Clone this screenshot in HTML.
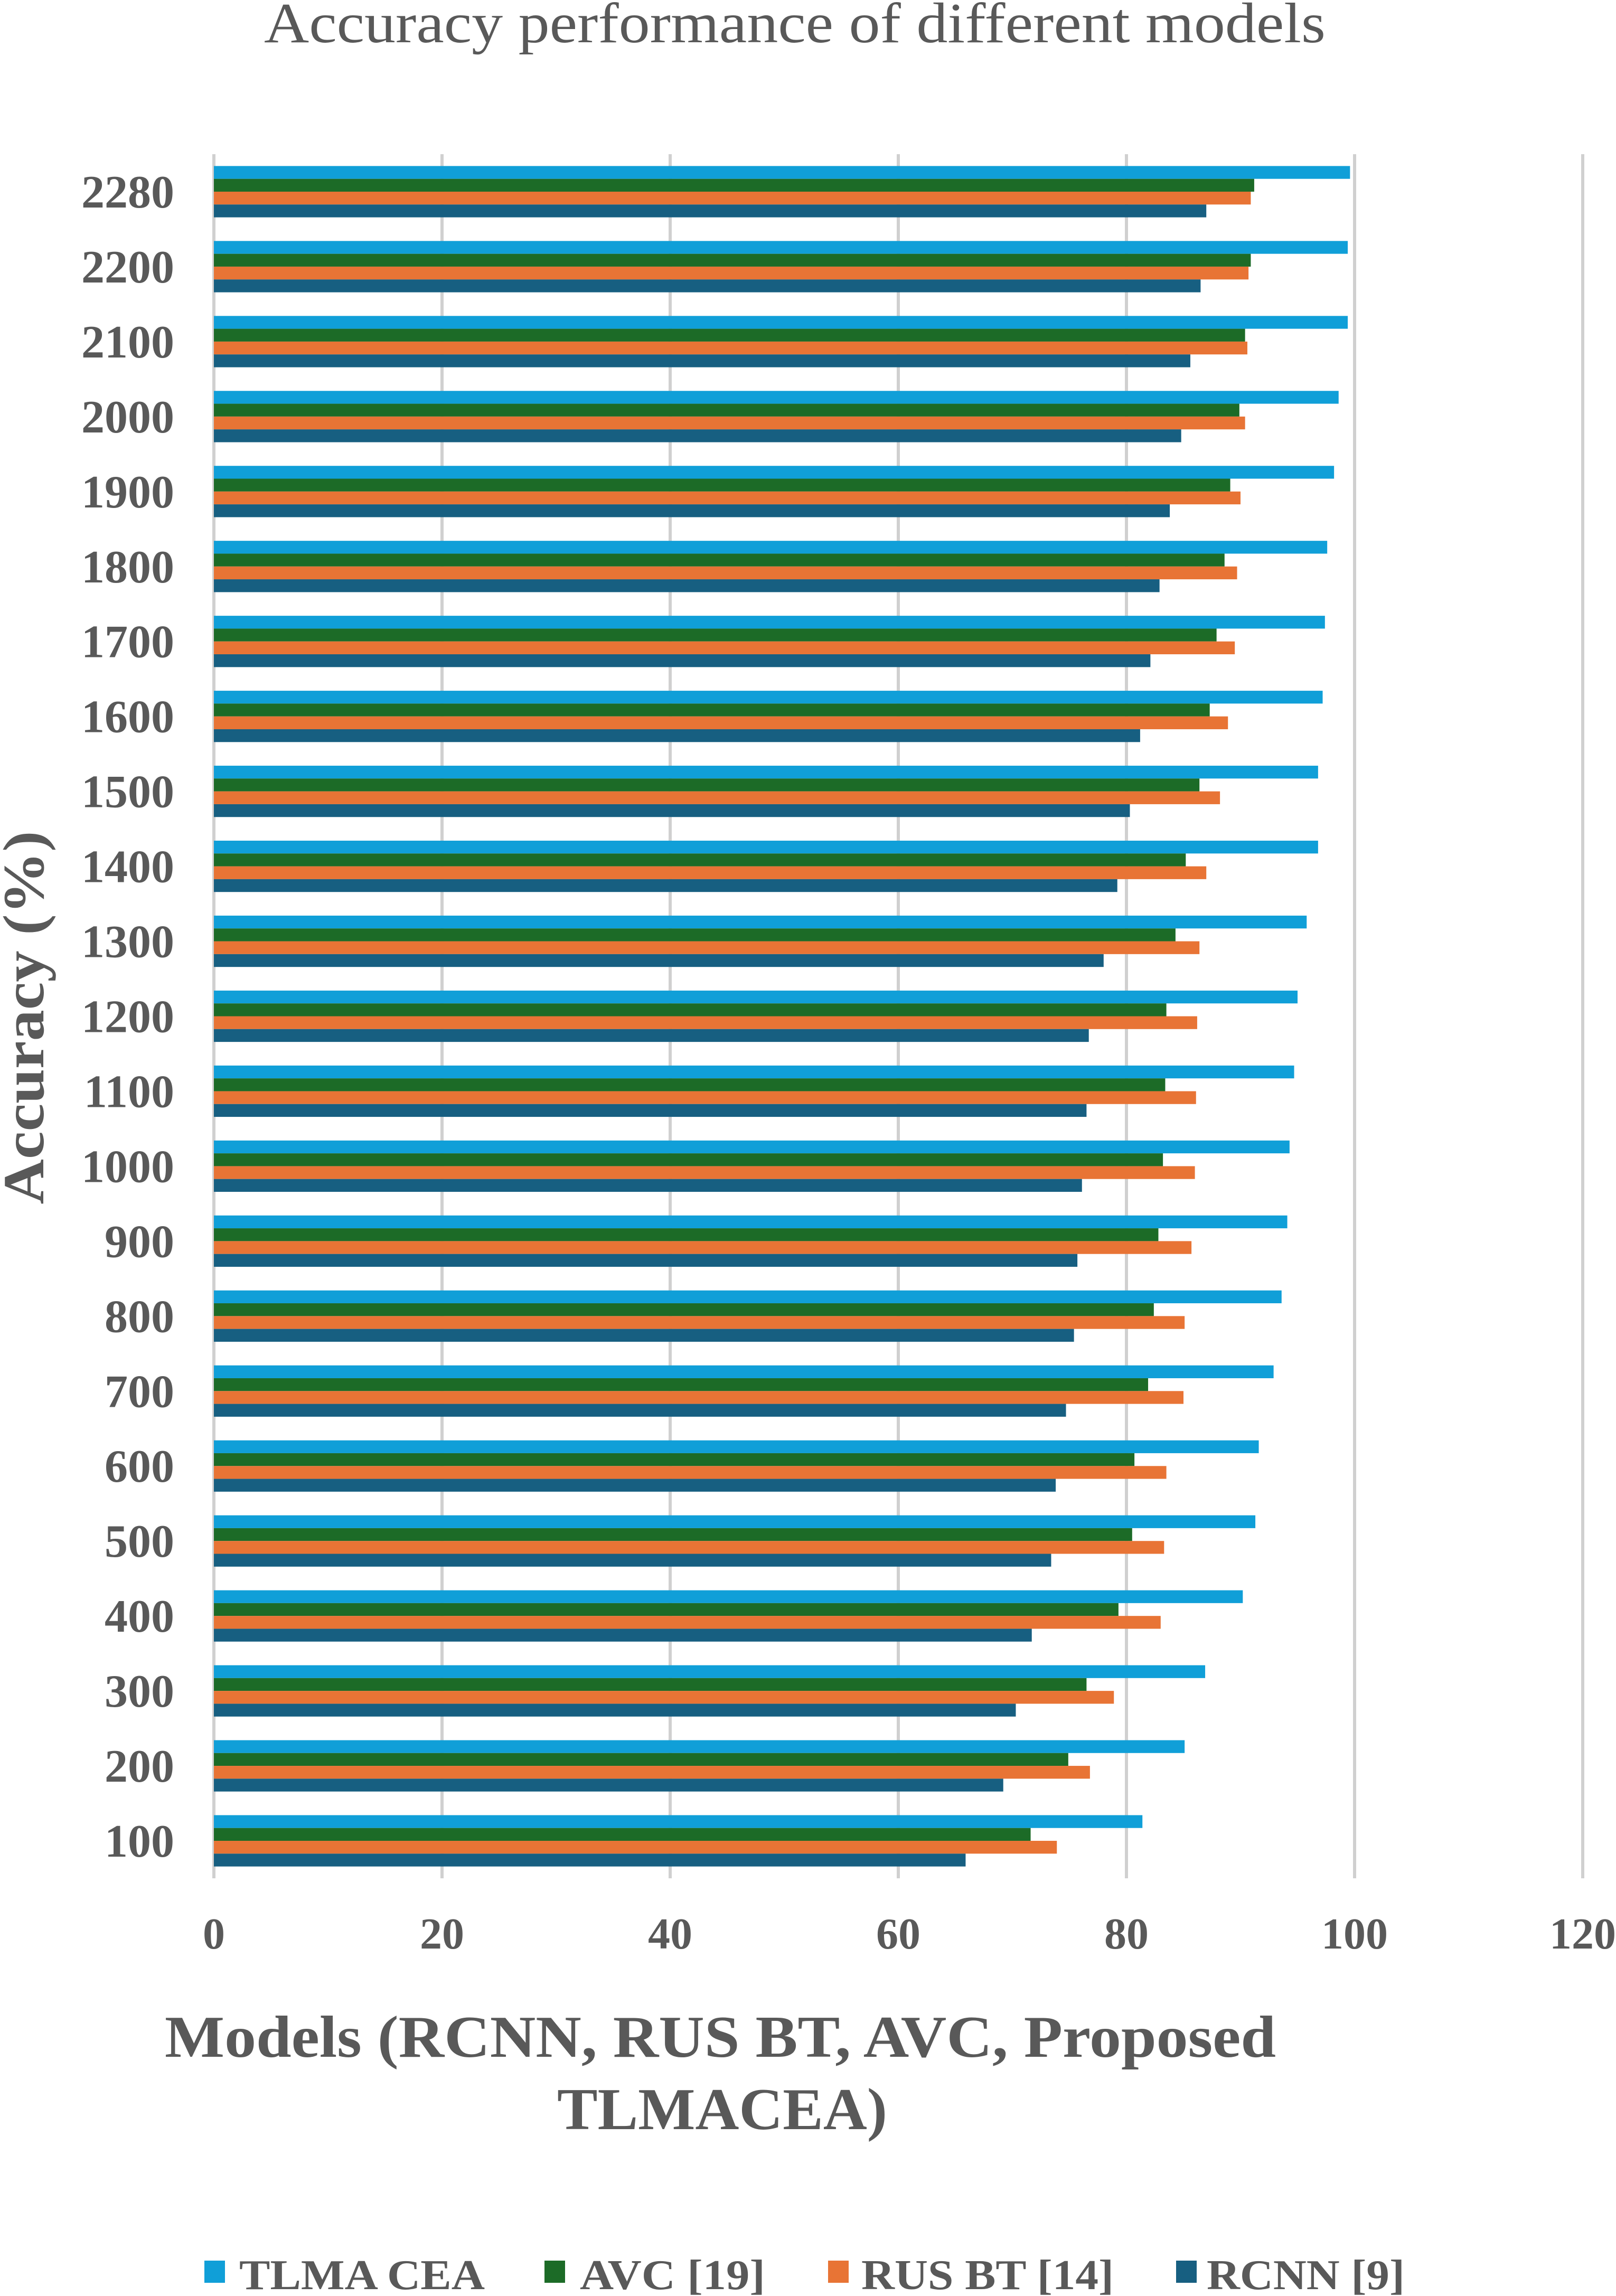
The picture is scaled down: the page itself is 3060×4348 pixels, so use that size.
<!DOCTYPE html>
<html><head><meta charset="utf-8">
<style>
html,body{margin:0;padding:0;background:#fff;}
svg{display:block;}
text{font-family:"Liberation Serif",serif;fill:#595959;}
</style></head>
<body>
<svg id="chart" width="3060" height="4348" viewBox="0 0 3060 4348" xmlns="http://www.w3.org/2000/svg">
<text x="1505" y="80" font-size="108" text-anchor="middle" textLength="2010" lengthAdjust="spacingAndGlyphs">Accuracy performance of different models</text>
<g id="grid"></g>
<g id="bars"></g>
<g id="ylabels"></g>
<g id="xlabels"></g>
<text transform="translate(82,1927) rotate(-90)" font-size="110" font-weight="bold" text-anchor="middle" textLength="707" lengthAdjust="spacingAndGlyphs">Accuracy (%)</text>
<text x="312" y="3895" font-size="112" font-weight="bold" textLength="2104" lengthAdjust="spacingAndGlyphs">Models (RCNN, RUS BT, AVC, Proposed</text>
<text x="1055" y="4032" font-size="112" font-weight="bold" textLength="625" lengthAdjust="spacingAndGlyphs">TLMACEA)</text>
<g>
<g><rect x="387" y="4281" width="39" height="42" fill="#109fd8"/><text x="453" y="4335" font-size="80" font-weight="bold" textLength="465" lengthAdjust="spacingAndGlyphs">TLMA CEA</text></g>
<g><rect x="1031" y="4281" width="39" height="42" fill="#1c6b27"/><text x="1098" y="4335" font-size="80" font-weight="bold" textLength="351" lengthAdjust="spacingAndGlyphs">AVC [19]</text></g>
<g><rect x="1568" y="4281" width="39" height="42" fill="#e87435"/><text x="1631" y="4335" font-size="80" font-weight="bold" textLength="478" lengthAdjust="spacingAndGlyphs">RUS BT [14]</text></g>
<g><rect x="2227" y="4281" width="39" height="42" fill="#175f81"/><text x="2285" y="4335" font-size="80" font-weight="bold" textLength="375" lengthAdjust="spacingAndGlyphs">RCNN [9]</text></g>
</g>
</svg>
<script>
const categories = [2280,2200,2100,2000,1900,1800,1700,1600,1500,1400,1300,1200,1100,1000,900,800,700,600,500,400,300,200,100];
const tlmaCea = [99.6,99.4,99.4,98.6,98.2,97.6,97.4,97.2,96.8,96.8,95.8,95.0,94.7,94.3,94.1,93.6,92.9,91.6,91.3,90.2,86.9,85.1,81.4];
const avc = [91.2,90.9,90.4,89.9,89.1,88.6,87.9,87.3,86.4,85.2,84.3,83.5,83.4,83.2,82.8,82.4,81.9,80.7,80.5,79.3,76.5,74.9,71.6];
const rusBt = [90.9,90.7,90.6,90.4,90.0,89.7,89.5,88.9,88.2,87.0,86.4,86.2,86.1,86.0,85.7,85.1,85.0,83.5,83.3,83.0,78.9,76.8,73.9];
const rcnn = [87.0,86.5,85.6,84.8,83.8,82.9,82.1,81.2,80.3,79.2,78.0,76.7,76.5,76.1,75.7,75.4,74.7,73.8,73.4,71.7,70.3,69.2,65.9];
const xTicks = [0,20,40,60,80,100,120];

const NS='http://www.w3.org/2000/svg';
const plotL=405, plotR=2997, plotT=292, plotB=3557;
const xMax=120;
function xScale(v){return plotL+(plotR-plotL)*v/xMax;}
const band=(plotB-plotT)/categories.length;
function yBand(i){return plotT+band*i;}
const barH=24.3, groupOff=(band-barH*4)/2;

const grid=document.getElementById('grid');
xTicks.forEach(t=>{
  const l=document.createElementNS(NS,'line');
  l.setAttribute('x1',xScale(t));l.setAttribute('x2',xScale(t));
  l.setAttribute('y1',plotT);l.setAttribute('y2',plotB);
  l.setAttribute('stroke','#d0d0d0');l.setAttribute('stroke-width','6');
  
  
  grid.appendChild(l);
  const tx=document.createElementNS(NS,'text');
  tx.setAttribute('x',xScale(t));tx.setAttribute('y',3690);
  tx.setAttribute('font-size','84');tx.setAttribute('font-weight','bold');
  tx.setAttribute('text-anchor','middle');
  tx.textContent=t;
  
  
  document.getElementById('xlabels').appendChild(tx);
});

const series=[[tlmaCea,'#109fd8','tlma-cea'],[avc,'#1c6b27','avc'],[rusBt,'#e87435','rus-bt'],[rcnn,'#175f81','rcnn']];
const bars=document.getElementById('bars');
categories.forEach((c,i)=>{
  series.forEach((s,k)=>{
    const r=document.createElementNS(NS,'rect');
    r.setAttribute('x',xScale(0));
    r.setAttribute('y',yBand(i)+groupOff+k*barH);
    r.setAttribute('width',xScale(s[0][i])-xScale(0));
    r.setAttribute('height',barH);
    r.setAttribute('fill',s[1]);
    
    
    bars.appendChild(r);
  });
  const tx=document.createElementNS(NS,'text');
  tx.setAttribute('x',330);tx.setAttribute('y',yBand(i)+band/2+30);
  tx.setAttribute('font-size','88');tx.setAttribute('font-weight','bold');
  tx.setAttribute('text-anchor','end');
  tx.textContent=c;
  
  
  document.getElementById('ylabels').appendChild(tx);
});
</script>
</body></html>
